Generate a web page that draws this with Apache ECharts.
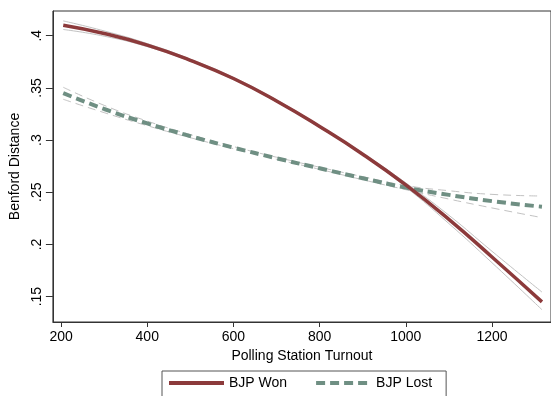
<!DOCTYPE html>
<html>
<head>
<meta charset="utf-8">
<script src="https://cdn.jsdelivr.net/npm/echarts@6/dist/echarts.min.js"></script>
<style>
    html, body { margin: 0; padding: 0; background: #fff; }
    #chart { width: 551px; height: 396px; }
</style>
</head>
<body>
<div id="chart"></div>
<script>
// turnout values where the fitted curves are read
const turnout = [205, 300, 400, 500, 600, 700, 800, 900, 1000, 1100, 1200, 1316];

// BJP won: fit and 95% band
const wonFit = [0.410, 0.4021, 0.391, 0.3765, 0.359, 0.3375, 0.313, 0.2865, 0.257, 0.224, 0.188, 0.145];
const wonUpper = [0.4142, 0.4046, 0.3925, 0.3775, 0.360, 0.3385, 0.314, 0.2875, 0.259, 0.228, 0.1935, 0.1544];
const wonLower = [0.406, 0.3996, 0.3895, 0.3755, 0.358, 0.3365, 0.312, 0.2855, 0.255, 0.220, 0.1825, 0.1375];

// BJP lost: fit and 95% band
const lostFit = [0.345, 0.3298, 0.316, 0.3038, 0.2928, 0.2826, 0.273, 0.2635, 0.2545, 0.2475, 0.2415, 0.2362];
const lostUpper = [0.3506, 0.3333, 0.3182, 0.3053, 0.2938, 0.2836, 0.274, 0.265, 0.2565, 0.2515, 0.248, 0.2464];
const lostLower = [0.3391, 0.3263, 0.3138, 0.3023, 0.2918, 0.2816, 0.272, 0.262, 0.2525, 0.2435, 0.235, 0.2257];

const xTicks = [200, 400, 600, 800, 1000, 1200];
const yTicks = [0.15, 0.2, 0.25, 0.3, 0.35, 0.4];

const FONT = 'Liberation Sans, Arial, sans-serif';

function pairs(ys) {
    return turnout.map((x, i) => [x, ys[i]]);
}

function band(name, ys, dashed) {
    return {
        name: name,
        type: 'line',
        data: pairs(ys),
        smooth: true,
        showSymbol: false,
        symbol: 'none',
        silent: true,
        z: 1,
        lineStyle: { color: '#c2c2c2', width: 1, type: dashed ? [8, 5] : 'solid' }
    };
}

const chart = echarts.init(document.getElementById('chart'));
chart.setOption({
    animation: false,
    backgroundColor: '#fff',
    grid: {
        left: 51,
        top: 11,
        right: -1,
        bottom: 74,
        show: true,
        borderColor: '#333',
        borderWidth: 1
    },
    xAxis: {
        type: 'value',
        min: 181,
        max: 1337,
        name: 'Polling Station Turnout',
        nameLocation: 'middle',
        nameGap: 24,
        nameTextStyle: { fontFamily: FONT, fontSize: 14, color: '#000' },
        splitLine: { show: false },
        axisLine: { lineStyle: { color: '#333', width: 1 } },
        axisTick: { customValues: xTicks, length: 5, lineStyle: { color: '#333' } },
        axisLabel: {
            customValues: xTicks,
            margin: 8,
            fontFamily: FONT,
            fontSize: 14,
            color: '#000',
            formatter: v => String(v)
        }
    },
    yAxis: {
        type: 'value',
        min: 0.1257,
        max: 0.4237,
        name: 'Benford Distance',
        nameLocation: 'middle',
        nameGap: 27,
        nameRotate: 90,
        nameTextStyle: { fontFamily: FONT, fontSize: 14, color: '#000' },
        splitLine: { show: false },
        axisLine: { show: true, lineStyle: { color: '#333', width: 1 } },
        axisTick: { show: true, customValues: yTicks, length: 7, lineStyle: { color: '#333' } },
        axisLabel: {
            customValues: yTicks,
            rotate: 90,
            margin: 9,
            fontFamily: FONT,
            fontSize: 14,
            color: '#000',
            formatter: v => String(v).replace(/^0/, '')
        }
    },
    legend: {
        data: ['BJP Won', 'BJP Lost'],
        left: 162,
        top: 371,
        orient: 'horizontal',
        itemWidth: 55,
        itemHeight: 14,
        itemGap: 27,
        padding: [5, 14, 30, 5],
        borderColor: '#555',
        borderWidth: 1,
        // hide the marker dot, keep the line
        itemStyle: { opacity: 0 },
        lineStyle: { width: 4 },
        textStyle: { fontFamily: FONT, fontSize: 14, color: '#000' }
    },
    series: [
        band('wonUpper', wonUpper, false),
        band('wonLower', wonLower, false),
        band('lostUpper', lostUpper, true),
        band('lostLower', lostLower, true),
        {
            name: 'BJP Lost',
            type: 'line',
            data: pairs(lostFit),
            smooth: true,
            showSymbol: false,
            symbol: 'none',
            z: 3,
            itemStyle: { color: '#6f8f83' },
            lineStyle: { color: '#6f8f83', width: 4, type: [9, 5] }
        },
        {
            name: 'BJP Won',
            type: 'line',
            data: pairs(wonFit),
            smooth: true,
            showSymbol: false,
            symbol: 'none',
            z: 4,
            itemStyle: { color: '#8c3a3b' },
            lineStyle: { color: '#8c3a3b', width: 3.5 }
        }
    ]
});
</script>
</body>
</html>
